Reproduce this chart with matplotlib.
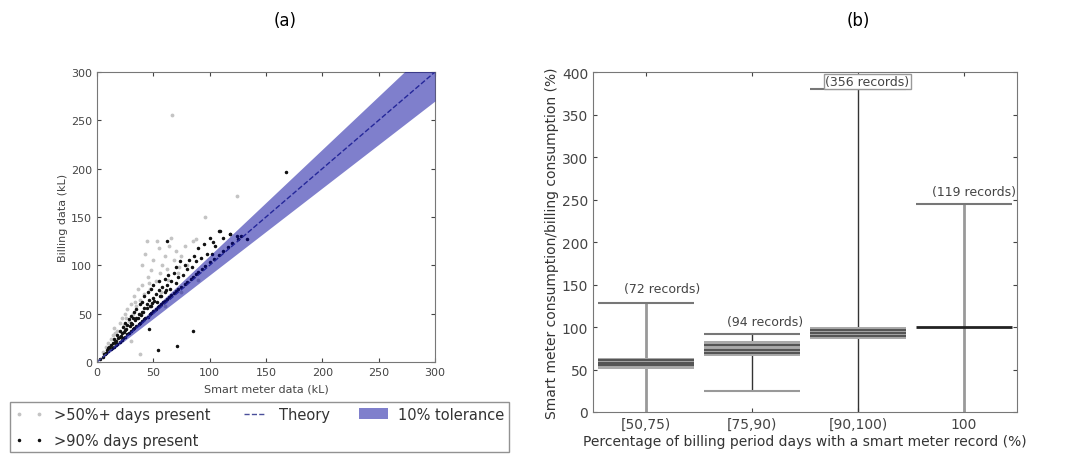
import matplotlib.pyplot as plt

# (a) smart meter vs billing volumes (kL)
part_x = [5, 8, 10, 12, 14, 15, 18, 20, 22, 24, 25, 27, 28, 30, 32, 33, 35, 36, 38, 40,
          40, 42, 43, 44, 45, 47, 48, 50, 52, 53, 55, 56, 58, 60, 62, 64, 66, 68, 70, 72,
          75, 78, 80, 85, 88, 96, 124, 67, 38, 30, 60, 75, 90, 16, 26, 34, 46, 57, 63, 73]
part_y = [10, 15, 20, 24, 28, 35, 32, 40, 45, 38, 50, 55, 42, 60, 50, 68, 58, 75, 64, 80,
          100, 70, 112, 125, 88, 76, 95, 105, 84, 125, 118, 92, 100, 110, 96, 120, 128, 106, 115, 92,
          110, 120, 100, 125, 127, 150, 172, 255, 8, 22, 58, 72, 85, 30, 46, 62, 82, 72, 85, 98]

full_x = [3, 5, 7, 8, 10, 12, 13, 15, 17, 18, 20, 22, 23, 25, 27, 28, 30, 32, 33, 35,
          37, 38, 40, 42, 43, 45, 47, 48, 50, 52, 54, 55, 57, 59, 60, 62, 64, 66, 68, 70,
          72, 75, 78, 80, 83, 85, 88, 90, 93, 96, 100, 104, 108, 112, 116, 120, 125, 128,
          10, 12, 14, 15, 17, 18, 20, 20, 22, 23, 25, 25, 27, 28, 30, 30, 32, 33, 35, 35,
          37, 38, 40, 40, 42, 42, 44, 45, 46, 48, 48, 50, 50, 52, 53, 55, 55, 57, 58, 60,
          60, 62, 63, 65, 66, 68, 70, 70, 72, 74, 76, 78, 80, 82, 84, 86, 88, 90, 92, 95,
          98, 100, 105, 108, 112, 118, 124, 85, 71, 54, 46, 168, 109, 118, 133, 103, 102, 62,
          6, 9, 11, 16, 19, 21, 24, 26, 29, 31, 34, 36, 39, 41, 44, 47, 49, 51, 56, 61]
full_y = [3, 5, 8, 9, 11, 13, 14, 16, 18, 19, 21, 23, 25, 26, 29, 30, 32, 34, 35, 37,
          39, 40, 42, 44, 46, 47, 50, 51, 53, 55, 57, 58, 60, 62, 63, 65, 67, 69, 71, 73,
          76, 78, 81, 83, 86, 88, 91, 93, 96, 99, 103, 107, 111, 115, 119, 123, 127, 130,
          14, 18, 20, 24, 22, 28, 26, 32, 30, 36, 33, 40, 38, 44, 40, 48, 45, 52, 46, 55,
          50, 60, 52, 62, 56, 68, 60, 72, 64, 58, 76, 66, 80, 70, 62, 74, 84, 68, 78, 72,
          86, 80, 90, 76, 84, 92, 82, 98, 88, 104, 90, 100, 96, 106, 98, 110, 104, 118, 108, 122,
          112, 128, 120, 136, 128, 132, 130, 32, 17, 12, 34, 196, 136, 132, 127, 124, 112, 125,
          8, 12, 15, 21, 25, 27, 31, 34, 37, 39, 43, 46, 49, 52, 56, 58, 61, 63, 68, 74]

theory_x = [0, 300]
tolerance = 0.10

# (b) ratio of smart meter to billing consumption (%)
cats = ['[50,75)', '[75,90)', '[90,100)', '100']
whisk_lo = [0, 25, 0, 0]
whisk_hi = [128, 92, 380, 245]
box_lo = [51, 66, 86, 100]
box_hi = [64, 84, 100, 100]
box_marks = [[55, 58, 61.5], [70, 73.5, 79], [89, 93, 97], [100]]
records = [72, 94, 356, 119]
label_y = [145, 107, 389, 260]
label_dx = [0.15, 0.12, 0.09, 0.1]

plt.rcParams['font.family'] = 'DejaVu Sans'
plt.rcParams['xtick.direction'] = 'in'
plt.rcParams['ytick.direction'] = 'in'
plt.rcParams['xtick.top'] = True
plt.rcParams['ytick.right'] = True

edge = '#777777'
fig = plt.figure(figsize=(10.73, 4.56), dpi=100)

# ---- (a)
ax1 = fig.add_axes([0.0904, 0.204, 0.315, 0.636])
h1, = ax1.plot(part_x, part_y, '.', color='#c4c4c4', ms=3.5, ls='none')
h2, = ax1.plot(full_x, full_y, '.', color='#111111', ms=3, ls='none')
h3, = ax1.plot(theory_x, theory_x, '--', color='#4a4f9a', lw=1)
tx = [0, 300]
h4 = ax1.fill_between(tx, [v * (1 - tolerance) for v in tx], [v * (1 + tolerance) for v in tx],
                      color='#00009a', alpha=0.5, lw=0, zorder=3)
ax1.set_xlim(0, 300)
ax1.set_ylim(0, 300)
ax1.set_xticks(range(0, 301, 50))
ax1.set_yticks(range(0, 301, 50))
ax1.tick_params(labelsize=8, colors='#444444', length=3)
ax1.set_xlabel('Smart meter data (kL)', fontsize=8, color='#444444', labelpad=5)
ax1.set_ylabel('Billing data (kL)', fontsize=8, color='#444444', labelpad=2)
for s in ax1.spines.values():
    s.set_color(edge)

fig.legend([h1, h2, h3, h4], ['>50%+ days present', '>90% days present', 'Theory', '10% tolerance'],
           loc='lower left', bbox_to_anchor=(0.0093, 0.0066), ncol=3, numpoints=2,
           fontsize=10.5, fancybox=False, edgecolor=edge, borderaxespad=0, borderpad=0.3,
           labelspacing=0.75, columnspacing=2.0, handlelength=2, handletextpad=0.7,
           labelcolor='#333333')
fig.text(0.266, 0.955, '(a)', ha='center', va='center', fontsize=12)

# ---- (b)
ax2 = fig.add_axes([0.5527, 0.0943, 0.395, 0.7456])
pos = list(range(1, len(cats) + 1))
half = 0.45
whisk_col = ['#999999', '#333333', '#333333', '#999999']
whisk_lw = [2, 1, 1, 2]
for i, p in enumerate(pos):
    ax2.vlines(p, whisk_lo[i], whisk_hi[i], color=whisk_col[i], lw=whisk_lw[i], zorder=2)
    ax2.hlines([whisk_hi[i]], p - half, p + half, color='#777777', lw=1.5, zorder=2)
    if whisk_lo[i] > 0:
        ax2.hlines([whisk_lo[i]], p - half, p + half, color='#999999', lw=1.5, zorder=2)
    if box_hi[i] > box_lo[i]:
        ax2.fill_between([p - half, p + half], box_lo[i], box_hi[i], color='#aaaaaa', lw=0, zorder=3)
        ax2.hlines(box_marks[i], p - half, p + half, color='#555555', lw=1.5, zorder=4)
    else:
        ax2.hlines(box_marks[i], p - half, p + half, color='#222222', lw=2, zorder=4)
    box = None
    if records[i] == max(records):
        box = dict(boxstyle='square,pad=0.1', fc='white', ec='#999999', lw=1)
    ax2.text(p + label_dx[i], label_y[i], '(%d records)' % records[i], ha='center', va='center',
             fontsize=9, color='#444444', bbox=box, zorder=5)

ax2.set_xlim(0.5, len(cats) + 0.5)
ax2.set_ylim(0, 400)
ax2.set_xticks(pos)
ax2.set_xticklabels(cats)
ax2.set_yticks(range(0, 401, 50))
ax2.tick_params(labelsize=10, colors='#444444', length=3)
ax2.set_xlabel('Percentage of billing period days with a smart meter record (%)', fontsize=10,
               color='#333333', labelpad=2)
ax2.set_ylabel('Smart meter consumption/billing consumption (%)', fontsize=10, color='#333333', labelpad=2)
for s in ax2.spines.values():
    s.set_color(edge)
fig.text(0.8, 0.955, '(b)', ha='center', va='center', fontsize=12)

fig.savefig('out.png', dpi=100)
